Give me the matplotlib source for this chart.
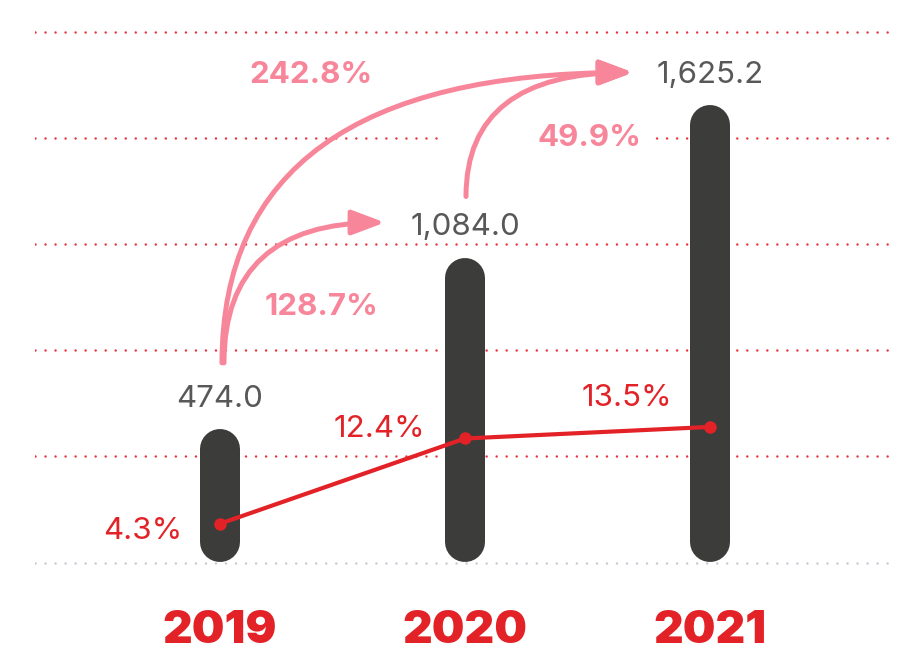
import matplotlib.pyplot as plt
import numpy as np
from matplotlib.patches import FancyArrowPatch, Rectangle

years = ["2019", "2020", "2021"]
revenue = [474.0, 1084.0, 1625.2]
margin = [4.3, 12.4, 13.5]
growth = ["128.7%", "242.8%", "49.9%"]

BAR = "#3c3c3b"
RED = "#e32227"
PINK = "#f8869a"
GRID = "#e8333c"
BASE = "#c6c8d2"
TXT = "#58585a"
FONT = "Inter"

W, H = 902, 654
fig = plt.figure(figsize=(W / 100, H / 100), dpi=100)
# axes box in pixels: left, right, top, bottom
L, R, T, B = 35, 893, 20, 566
ax = fig.add_axes([L / W, 1 - B / H, (R - L) / W, (B - T) / H])
ax2 = ax.twinx()

x = np.arange(len(years))
ax.set_xlim(-0.755, 2.747)
ax.set_ylim(-14.2, 1929.5)
ax2.set_ylim(0.28, 52.18)

XPP = (2.747 + 0.755) / (R - L)
YPP = (1929.5 + 14.2) / (B - T)


def shift(i, v, dx_px, dy_px):
    return (i + dx_px * XPP, v + dy_px * YPP)


for a in (ax, ax2):
    a.axis("off")

# dotted grid
grid_step = 377.4
for k in range(1, 6):
    ax.axhline(k * grid_step, color=GRID, lw=1.8, ls=(0, (0.01, 4.0)),
               dash_capstyle="round", zorder=1)
ax.axhline(-3.6, color=BASE, lw=1.8, ls=(0, (0.01, 4.0)),
           dash_capstyle="round", zorder=1)

# gap in the grid behind the 49.9% label
gx0, gy0 = shift(1, revenue[1], -25, 105)
ax.add_patch(Rectangle((gx0, gy0), 213 * XPP, 16 * YPP, color="white",
                       lw=0, zorder=1.5))

# rounded bars
bar_px = 40
r = bar_px / 2 * YPP
for i, v in zip(x, revenue):
    ax.plot([i, i], [r, v - r], color=BAR, lw=bar_px * 0.72,
            solid_capstyle="round", zorder=2)
    ax.annotate(f"{v:,.1f}", (i, v), xytext=(0, 16), textcoords="offset points",
                ha="center", va="baseline", fontsize=22.5, color=TXT,
                family=FONT)

# year labels
for i, y in zip(x, years):
    ax.text(i, -81 * YPP, y, ha="center", va="baseline", fontsize=33,
            fontweight="black", color=RED, family=FONT)

# growth arrows
arrows = [
    (shift(0, revenue[0], 4, 66), shift(1, revenue[1], -80, 35)),
    (shift(0, revenue[0], 2, 66), shift(2, revenue[2], -77, 33)),
    (shift(1, revenue[1], 1, 61), shift(2, revenue[2], -77, 33)),
]
for start, end in arrows:
    ax.add_patch(FancyArrowPatch(
        start, end, connectionstyle="angle3,angleA=90,angleB=0",
        arrowstyle="-|>,head_length=20,head_width=7.5", lw=3.6,
        color=PINK, shrinkA=0, shrinkB=0, zorder=3))

label_pos = [
    shift(0, revenue[0], 102, 114),
    shift(0, revenue[0], 91, 346),
    shift(1, revenue[1], 125, 111.5),
]
for (lx, ly), s in zip(label_pos, growth):
    ax.text(lx, ly, s, ha="center", va="baseline", fontsize=22.5,
            fontweight="bold", color=PINK, family=FONT, zorder=4)

# margin line
ax2.plot(x, margin, color=RED, lw=3, marker="o", ms=8, zorder=5)
margin_offsets = [(-27, -11), (-29, 1), (-27, 15)]
for i, m, off in zip(x, margin, margin_offsets):
    ax2.annotate(f"{m:.1f}%", (i, m), xytext=off, textcoords="offset points",
                 ha="right", va="baseline", fontsize=22.5, color=RED,
                 family=FONT)

fig.savefig("out.png", dpi=100)
